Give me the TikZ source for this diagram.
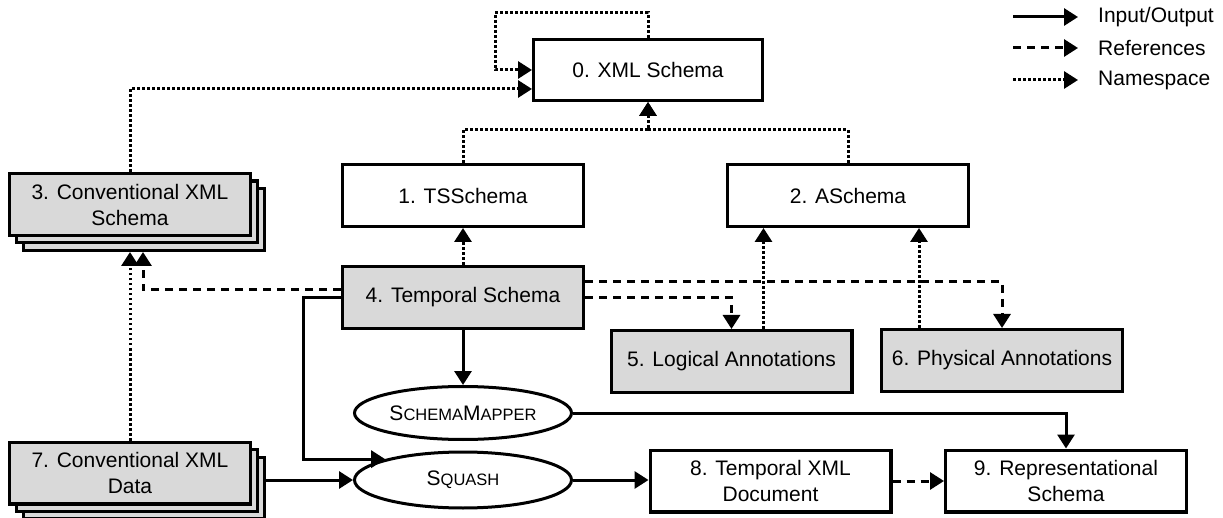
\documentclass[tikz,border=0pt]{standalone}
\usepackage{fontspec}
\setmainfont{Liberation Sans}
\usetikzlibrary{arrows.meta,shapes.geometric,calc}
\definecolor{boxgray}{RGB}{217,217,217}
\newcommand\mysc[1]{{\fontsize{16.5}{16.5}\selectfont #1}}
\begin{document}
\begin{tikzpicture}[x=1pt,y=-1pt,
  font=\fontsize{21}{26}\selectfont,
  box/.style={draw, line width=3.4pt, minimum width=240.6pt, minimum height=61.6pt, align=center, inner sep=0pt, fill=white},
  gbox/.style={box, fill=boxgray},
  oval/.style={draw, ellipse, line width=3pt, minimum width=217pt, minimum height=53pt, inner sep=0pt, fill=white},
  io/.style={line width=3pt, -{Triangle[length=14pt,width=17pt]}},
  refs/.style={io, dash pattern=on 8pt off 6pt},
  ns/.style={io, dash pattern=on 2.7pt off 2.3pt},
  lgtext/.style={anchor=west, inner sep=0pt},
]
\useasboundingbox (0,0) rectangle (1223,518);

% nodes
\node[box, minimum width=228.6pt, minimum height=60.6pt] (b0) at (648,70) {0. XML Schema};
\node[box] (b1) at (463,195.5) {1. TSSchema};
\node[box] (b2) at (848,195.5) {2. ASchema};
\node[gbox] (b3c) at (144,219.5) {};
\node[gbox] (b3b) at (137,212) {};
\node[gbox] (b3) at (130,204.5) {3. Conventional XML\\Schema};
\node[gbox] (b4) at (463,297.5) {4. Temporal Schema};
\node[gbox] (b5) at (731.5,361.5) {5. Logical Annotations};
\node[gbox] (b6) at (1002,360.5) {6. Physical Annotations};
\node[gbox] (b7c) at (144,488) {};
\node[gbox] (b7b) at (137,480.5) {};
\node[gbox] (b7) at (130,473) {7. Conventional XML\\Data};
\node[oval] (sm) at (463,413) {S\mysc{CHEMA}M\mysc{APPER}};
\node[oval, minimum height=56pt] (sq) at (463,480) {S\mysc{QUASH}};
\node[box] (b8) at (770.5,481) {8. Temporal XML\\Document};
\node[box] (b9) at (1066,481) {9. Representational\\Schema};

% helper coordinates
\coordinate (loopTL) at (495,13);
\coordinate (mid0) at (648,130);
\path ($(b5.north)+(32,0)$) coordinate (p5);
\path ($(b6.north)+(-83,0)$) coordinate (p6);

% namespace connectors
\draw[ns] (b0.north) |- (loopTL) |- (b0.west);
\draw[ns] (b3.north) |- ($(b0.west)+(0,19)$);
\draw[ns] (b1.north) |- (mid0) -- (b0.south);
\draw[ns] (b2.north) |- (mid0) -- (b0.south);
\draw[ns] (b4.north) -- (b1.south);
\draw[ns] (p5) -- (p5 |- b2.south);
\draw[ns] (p6) -- (p6 |- b2.south);
\draw[ns] (b7.north) -- (b7.north |- b3c.south);

% references
\draw[refs] ($(b4.west)+(0,-7.5)$) -| ($(b3c.south)+(-1,0)$);
\draw[refs] ($(b4.east)+(0,-15.5)$) -| (b6.north);
\draw[refs] (b4.east) -| (b5.north);
\draw[refs] (b8.east) -- (b9.west);

% input/output
\draw[io] (b4.west) -- ++(-38,0) |- (sq.165);
\draw[io] (b4.south) -- (sm.north);
\draw[io] (sm.east) -| (b9.north);
\draw[io] (b7c.east |- sq.west) -- (sq.west);
\draw[io] (sq.east) -- (sq.east -| b8.west);

% legend
\coordinate (l1a) at (1013,17); \coordinate (l1b) at (1078,17);
\coordinate (l2a) at (1013,48); \coordinate (l2b) at (1078,48);
\coordinate (l3a) at (1013,80); \coordinate (l3b) at (1078,80);
\draw[io] (l1a) -- (l1b);
\draw[refs] (l2a) -- (l2b);
\draw[ns] (l3a) -- (l3b);
\node[lgtext] (t1) at (1098,17) {Input/Output};
\node[lgtext] (t2) at (1098,48) {References};
\node[lgtext] (t3) at (1098,80) {Namespace};
\end{tikzpicture}
\end{document}
